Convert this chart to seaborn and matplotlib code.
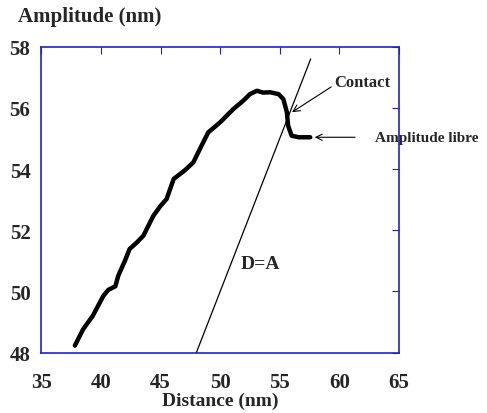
import numpy as np
import pandas as pd
import seaborn as sns
import matplotlib.pyplot as plt

# amplitude vs distance curve
distance = [37.8, 38.5, 39.3, 40.2, 40.6, 41.2, 41.45, 42.0, 42.4, 43.0, 43.55,
            44.4, 45.0, 45.5, 46.1, 47.0, 47.75, 48.3, 49.0, 50.0, 51.1, 51.95,
            52.5, 53.08, 53.6, 54.2, 54.9, 55.3, 55.6, 55.7, 56.0, 56.6, 57.56]
amplitude = [48.23, 48.77, 49.2, 49.86, 50.05, 50.17, 50.52, 51.0, 51.39, 51.6, 51.82,
             52.48, 52.8, 53.02, 53.68, 53.95, 54.22, 54.66, 55.2, 55.53, 55.96, 56.24,
             56.45, 56.56, 56.5, 56.51, 56.45, 56.29, 55.86, 55.42, 55.09, 55.04, 55.04]

# D = A reference line
line_d = [48.0, 57.6]
line_a = [48.0, 57.6]

xticks = [35, 40, 45, 50, 55, 60, 65]
yticks = [48, 50, 52, 54, 56, 58]

sns.set_style("white")
plt.rcParams['font.family'] = ['Liberation Serif', 'DejaVu Serif']
plt.rcParams['font.weight'] = 'bold'

fig = plt.figure(figsize=(4.87, 4.14), dpi=100)
ax = fig.add_axes([0.0852, 0.1457, 0.7338, 0.7391])

df = pd.DataFrame({'distance': distance, 'amplitude': amplitude})
sns.lineplot(data=df, x='distance', y='amplitude', ax=ax, color='black',
             linewidth=3.2, sort=False)
sns.lineplot(x=line_d, y=line_a, ax=ax, color='black', linewidth=0.9)

ax.set_xlim(35, 65)
ax.set_ylim(48, 58)
ax.set_xticks(xticks)
ax.set_yticks(yticks)
ax.tick_params(direction='in', length=5, color='#2020d0', labelsize=15,
               top=True, right=True, labelright=False, labeltop=False)
ax.tick_params(axis='x', pad=14)
ax.tick_params(axis='y', pad=8)
for lab in ax.get_xticklabels() + ax.get_yticklabels():
    lab.set_fontweight('bold')
for s in ax.spines.values():
    s.set_color('#2020d0')
    s.set_linewidth(1.2)

ax.set_xlabel('Distance (nm)', fontsize=14, fontweight='bold', labelpad=0)
ax.set_ylabel('')
fig.text(0.037, 0.959, 'Amplitude (nm)', fontsize=15, fontweight='bold',
         ha='left', va='center')

ax.annotate('Contact', xy=(56.03, 55.86), xytext=(59.6, 56.86),
            fontsize=12, fontweight='bold', ha='left', va='center',
            arrowprops=dict(arrowstyle='->', color='black', lw=0.8,
                            shrinkA=0, shrinkB=0, relpos=(0.0, 0.3)))
ax.annotate('Amplitude libre', xy=(57.94, 55.04), xytext=(63.0, 55.04),
            fontsize=11, fontweight='bold', ha='left', va='center',
            annotation_clip=False,
            arrowprops=dict(arrowstyle='->', color='black', lw=0.8,
                            shrinkA=12, shrinkB=0))
ax.text(51.74, 50.9, 'D=A', fontsize=14, fontweight='bold', ha='left', va='center')

fig.savefig('out.png', dpi=100)
